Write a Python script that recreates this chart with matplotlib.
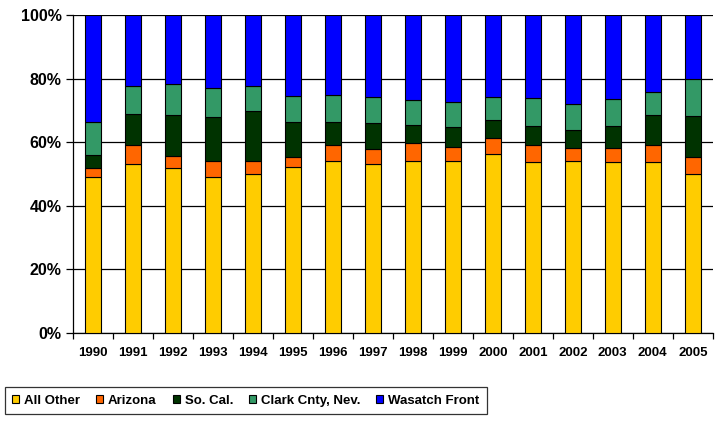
import matplotlib
matplotlib.use("Agg")
import matplotlib.pyplot as plt
import numpy as np

years = ["1990", "1991", "1992", "1993", "1994", "1995", "1996", "1997",
         "1998", "1999", "2000", "2001", "2002", "2003", "2004", "2005"]
all_other = [49.2, 53.2, 52.0, 49.0, 49.9, 52.1, 54.0, 53.1, 54.0, 54.0, 56.2, 53.7, 54.0, 53.7, 53.7, 49.9]
arizona = [2.6, 5.9, 3.8, 5.0, 4.1, 3.2, 5.1, 4.9, 5.6, 4.6, 5.2, 5.3, 4.2, 4.6, 5.3, 5.4]
so_cal = [4.2, 9.7, 12.8, 13.9, 15.7, 11.0, 7.2, 8.0, 5.9, 6.1, 5.5, 6.2, 5.6, 6.9, 9.6, 12.8]
clark = [10.2, 9.0, 9.8, 9.3, 8.1, 8.2, 8.7, 8.3, 7.7, 7.9, 7.2, 8.6, 8.1, 8.4, 7.3, 11.7]
wasatch = [33.8, 22.2, 21.6, 22.8, 22.2, 25.5, 25.0, 25.7, 26.8, 27.4, 25.9, 26.2, 28.1, 26.4, 24.1, 20.2]

series = [("All Other", all_other, "#FFCC00"),
          ("Arizona", arizona, "#FF6600"),
          ("So. Cal.", so_cal, "#003300"),
          ("Clark Cnty, Nev.", clark, "#339966"),
          ("Wasatch Front", wasatch, "#0000FF")]

plt.rcParams['font.family'] = ['Liberation Sans', 'DejaVu Sans']
plt.rcParams['font.weight'] = 'bold'

fig = plt.figure(figsize=(7.2, 4.24), dpi=100)
ax = fig.add_axes([0.101, 0.2146, 0.889, 0.75])

x = np.arange(len(years))
bottom = np.zeros(len(years))
handles = []
for name, vals, col in series:
    v = np.array(vals)
    b = ax.bar(x, v, width=0.4, bottom=bottom, color=col, edgecolor="black",
               linewidth=0.8, label=name, zorder=3)
    bottom += v
    handles.append(b)

ax.set_xlim(-0.5, len(years) - 0.5)
ax.set_ylim(0, 100)
ax.set_yticks([0, 20, 40, 60, 80, 100])
ax.set_yticklabels(["0%", "20%", "40%", "60%", "80%", "100%"], fontsize=11.5, fontweight="bold")
ax.yaxis.grid(True, color="black", linewidth=0.9, zorder=0)
ax.set_axisbelow(True)

ax.set_xticks(x)
ax.set_xticklabels(years, fontsize=9.5, fontweight="bold")
ax.set_xticks(np.arange(-0.5, len(years)), minor=True)
ax.tick_params(axis="x", which="major", length=0, pad=10)
ax.tick_params(axis="x", which="minor", length=4, direction="out", width=0.9)
ax.tick_params(axis="y", length=5, direction="out", width=0.9, pad=3)

for s in ["top", "right"]:
    ax.spines[s].set_visible(False)
ax.spines["left"].set_linewidth(0.9)
ax.spines["bottom"].set_linewidth(0.9)

leg = fig.legend(handles=handles, loc="center left", bbox_to_anchor=(5 / 720, 0.0554), ncol=5,
                 frameon=True, fancybox=False, edgecolor="black", borderaxespad=0,
                 handlelength=0.53, handleheight=0.53, handletextpad=0.38, columnspacing=1.2,
                 borderpad=0.55, prop={"weight": "bold", "size": 9.5})
leg.get_frame().set_linewidth(0.9)

fig.savefig("out.png", dpi=100)
